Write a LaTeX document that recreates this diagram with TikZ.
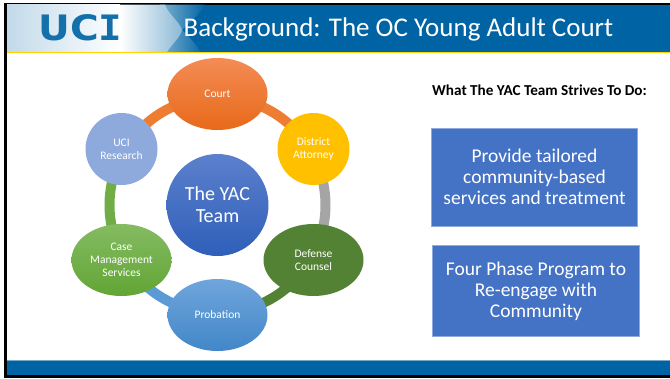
\documentclass[tikz,border=0pt]{standalone}
\usepackage{fontspec}
\setmainfont{Carlito}
\newfontfamily\logofont{DejaVu Sans}
\newfontfamily\logomono{DejaVu Sans Mono}
\usetikzlibrary{shapes.geometric}
\pgfdeclarelayer{bglayer}
\pgfdeclarelayer{ringlayer}
\pgfsetlayers{bglayer,ringlayer,main}
\definecolor{ucib}{HTML}{0064A4}
\definecolor{uciy}{HTML}{FFD200}
\definecolor{boxb}{HTML}{4472C4}
\definecolor{boxe}{HTML}{8FAADC}
\definecolor{rorange}{RGB}{237,125,49}
\definecolor{rgray}{RGB}{165,165,165}
\definecolor{rdgreen}{RGB}{84,130,53}
\definecolor{rblue}{RGB}{91,155,213}
\definecolor{rgreen}{RGB}{112,173,71}
\definecolor{ryellow}{RGB}{255,192,0}
\definecolor{rlilac}{RGB}{142,170,220}
\tikzset{
 x=1pt,y=-1pt,
 blob/.style={ellipse,minimum width=100pt,minimum height=72pt,inner sep=0pt,align=center,text=white,font=\fontsize{11.5}{13}\selectfont},
 disc/.style={circle,minimum size=72pt,inner sep=0pt,align=center,text=white,font=\fontsize{11.5}{13}\selectfont},
 tealbox/.style={rectangle,draw=boxe,line width=0.8pt,fill=boxb,text=white,align=center,inner sep=0pt,font=\fontsize{19.5}{21}\selectfont},
 ring/.style={line width=10pt}
}
\begin{document}
\begin{tikzpicture}
\useasboundingbox (0,0) rectangle (670,378);
\begin{pgfonlayer}{bglayer}
\fill[white] (0,0) rectangle (670,378);
\fill[black] (4.3,2.6) rectangle (670,378);
\fill[white] (7,4.6) rectangle (670,375);
\fill[ucib] (7,4.6) rectangle (670,52);
\shade[left color=ucib!50!white,right color=ucib] (160,4.6) -- (205,4.6) .. controls (200,14) and (190,22) .. (182,30) .. controls (190,37) and (196,45) .. (201,52) -- (160,52) -- cycle;
\shade[left color=ucib!24!white,right color=white] (7,4.6) rectangle (120,52);
\shade[left color=white,right color=ucib!45!white] (120,4.6) -- (165,4.6) .. controls (168,14) and (180,22) .. (182,30) .. controls (180,38) and (171,45) .. (167,52) -- (120,52) -- cycle;
\fill[uciy] (7,51.6) rectangle (670,53.2);
\fill[ucib] (7,360) rectangle (670,375);
\fill[ucib!55!white] (7,360) rectangle (670,361);
\end{pgfonlayer}
\node[text=ucib!92!white,inner sep=0pt] (logo) at (80.5,28) {\resizebox{84pt}{26pt}{\bfseries\logofont UC{\logomono I}}};
\node[anchor=west,text=white,inner sep=0pt,font=\fontsize{27}{30}\selectfont] (title) at (183.5,29) {Background: The OC Young Adult Court};
% nodes
\node[circle,minimum size=102pt,inner sep=0pt,align=center,text=white,top color={rgb,255:red,92;green,128;blue,204},bottom color={rgb,255:red,47;green,95;blue,185},font=\fontsize{20}{22}\selectfont] (team) at (217.5,205) {The YAC\\Team};
\node[blob,top color={rgb,255:red,243;green,140;blue,85},bottom color={rgb,255:red,232;green,105;blue,25}] (court) at (217.5,94) {Court};
\node[disc,fill=ryellow] (da) at (313.5,149) {District\\Attorney};
\node[blob,fill=rdgreen] (dc) at (313.5,260) {Defense\\Counsel};
\node[blob,top color={rgb,255:red,112;green,165;blue,220},bottom color={rgb,255:red,66;green,135;blue,200}] (prob) at (217.5,315) {Probation};
\node[blob,top color={rgb,255:red,133;green,187;blue,98},bottom color={rgb,255:red,98;green,165;blue,52}] (case) at (121.5,260) {Case\\Management\\Services};
\node[disc,fill=rlilac] (uci) at (121.5,149) {UCI\\Research};
% ring segments, centred on the team node
\begin{pgfonlayer}{ringlayer}
\draw[ring,rorange] (team.center) ++(-150:108) arc[start angle=-150,end angle=-30,radius=108];
\draw[ring,rgray] (team.center) ++(-30:108) arc[start angle=-30,end angle=30,radius=108];
\draw[ring,rdgreen] (team.center) ++(30:108) arc[start angle=30,end angle=90,radius=108];
\draw[ring,rblue] (team.center) ++(90:108) arc[start angle=90,end angle=150,radius=108];
\draw[ring,rgreen] (team.center) ++(150:108) arc[start angle=150,end angle=210,radius=108];
\end{pgfonlayer}
% right
\node[inner sep=0pt,font=\bfseries\fontsize{15.2}{17}\selectfont] (head) at (539.5,90) {What The YAC Team Strives To Do:};
\node[tealbox,minimum width=206pt,minimum height=98pt] (b1) at (534.5,177) {Provide tailored\\community-based\\services and treatment};
\node[tealbox,minimum width=207pt,minimum height=91pt] (b2) at (536,291) {Four Phase Program to\\Re-engage with\\Community};
\end{tikzpicture}
\end{document}
